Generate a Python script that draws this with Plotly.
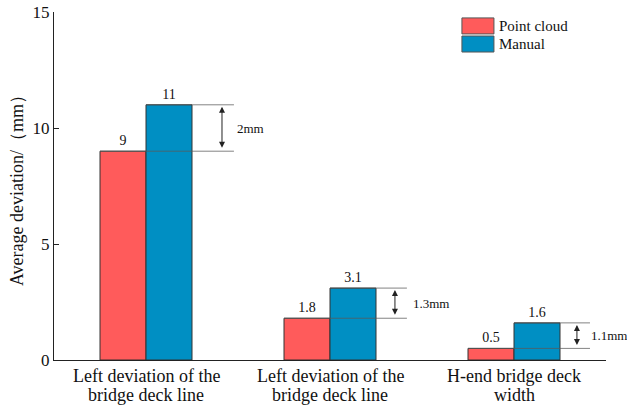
import plotly.graph_objects as go

# Categories (two-line labels) and measured average deviations (mm)
categories = [
    ("Left deviation of the", "bridge deck line"),
    ("Left deviation of the", "bridge deck line"),
    ("H-end bridge deck", "width"),
]
point_cloud = [9, 1.8, 0.5]
manual = [11, 3.1, 1.6]
y_ticks = [0, 5, 10, 15]

# Layout helpers for the difference brackets (in x-axis units from group centre)
bracket_reach = [0.478, 0.418, 0.413]
arrow_offset = [0.413, 0.353, 0.342]
label_offset = [0.485, 0.44, 0.408]

RED = "#FF5B5B"
BLUE = "#008FC3"
FONT = "Times New Roman"

xpos = list(range(len(categories)))

fig = go.Figure()
fig.add_trace(go.Bar(
    x=xpos, y=point_cloud, name="Point cloud",
    marker=dict(color=RED, line=dict(color="#333333", width=1)),
    text=[f"{v:g}" for v in point_cloud], textposition="outside",
    textfont=dict(family=FONT, size=14, color="#111"),
    cliponaxis=False,
))
fig.add_trace(go.Bar(
    x=xpos, y=manual, name="Manual",
    marker=dict(color=BLUE, line=dict(color="#333333", width=1)),
    text=[f"{v:g}" for v in manual], textposition="outside",
    textfont=dict(family=FONT, size=14, color="#111"),
    cliponaxis=False,
))

half = 0.25  # width of one bar in a group
line_style = dict(color="rgba(90,90,90,0.75)", width=1)
shapes = []
annotations = []
for i, (a, b) in enumerate(zip(point_cloud, manual)):
    # reference lines at both bar tops, running out to the bracket
    shapes.append(dict(type="line", xref="x", yref="y", x0=i - half, x1=i + bracket_reach[i],
                       y0=a, y1=a, line=line_style, layer="above"))
    shapes.append(dict(type="line", xref="x", yref="y", x0=i, x1=i + bracket_reach[i],
                       y0=b, y1=b, line=line_style, layer="above"))
    # double-headed arrow between the two levels
    annotations.append(dict(
        x=i + arrow_offset[i], y=b, ax=i + arrow_offset[i], ay=a,
        xref="x", yref="y", axref="x", ayref="y",
        showarrow=True, arrowhead=2, startarrowhead=2, arrowside="end+start",
        arrowsize=1.2, startarrowsize=1.2, arrowwidth=1, arrowcolor="#222",
        standoff=2, startstandoff=2, text="",
    ))
    annotations.append(dict(
        x=i + label_offset[i], y=(a + b) / 2, xref="x", yref="y",
        text=f"{round(b - a, 1):g}mm", showarrow=False, xanchor="left", yanchor="middle",
        font=dict(family=FONT, size=13, color="#111"),
    ))

# Category labels under the axis, set line by line for tight spacing
for i, (line1, line2) in enumerate(categories):
    for text, ypos in ((line1, -0.046), (line2, -0.1)):
        annotations.append(dict(x=i, y=ypos, xref="x", yref="paper", text=text,
                                showarrow=False, xanchor="center", yanchor="middle",
                                font=dict(family=FONT, size=18, color="#111")))

# Legend drawn as swatches with labels
legend_items = [("Point cloud", RED), ("Manual", BLUE)]
for k, (name, col) in enumerate(legend_items):
    y_top = 0.983 - k * 0.052
    shapes.append(dict(type="rect", xref="paper", yref="paper",
                       x0=0.739, x1=0.797, y0=y_top - 0.046, y1=y_top,
                       fillcolor=col, line=dict(color="#555", width=1)))
    annotations.append(dict(x=0.803, y=y_top - 0.023, xref="paper", yref="paper",
                            text=name, showarrow=False, xanchor="left", yanchor="middle",
                            font=dict(family=FONT, size=15, color="#111")))

fig.update_layout(
    width=627, height=405,
    margin=dict(l=54, r=21, t=12, b=45),
    paper_bgcolor="white", plot_bgcolor="white",
    barmode="group", bargap=0.5, bargroupgap=0,
    showlegend=False,
    font=dict(family=FONT, color="#111"),
    shapes=shapes, annotations=annotations,
    xaxis=dict(range=[-0.5, 2.5], tickvals=xpos, showticklabels=False,
               showline=True, linecolor="#222", linewidth=1, ticks="",
               showgrid=False, zeroline=False, automargin=False),
    yaxis=dict(range=[0, 15], tickvals=y_ticks, showline=True, linecolor="#222",
               linewidth=1, ticks="inside", ticklen=5, tickcolor="#222",
               showgrid=False, zeroline=False, automargin=False,
               tickfont=dict(family=FONT, size=17),
               title=dict(text="Average deviation/（mm）", font=dict(family=FONT, size=18),
                          standoff=4)),
)

fig.write_html("out.html")
